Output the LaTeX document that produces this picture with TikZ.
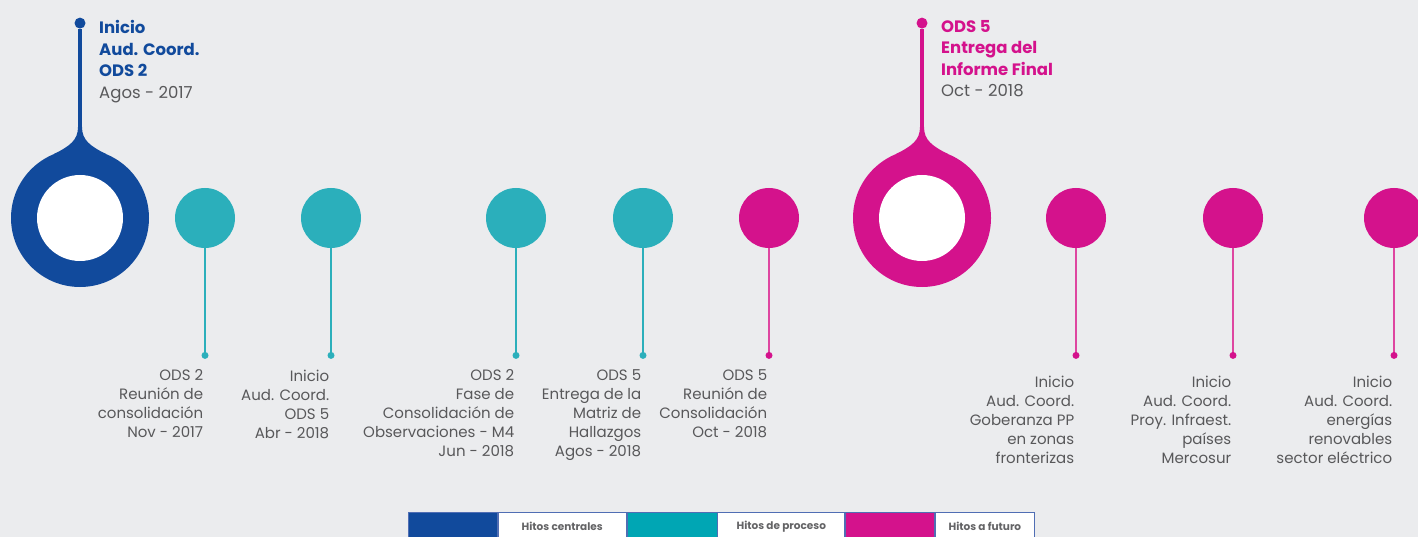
\documentclass[tikz,border=0pt]{standalone}
\usepackage{fontspec}
\setmainfont{Poppins}
\usetikzlibrary{positioning}
\definecolor{azul}{RGB}{17,74,156}
\definecolor{turquesa}{RGB}{43,175,187}
\definecolor{turquesaley}{RGB}{0,166,180}
\definecolor{fucsia}{RGB}{212,18,140}
\definecolor{fucsiaclaro}{RGB}{222,70,160}
\definecolor{gristexto}{RGB}{88,88,90}
\definecolor{grisley}{RGB}{100,100,102}
\definecolor{fondo}{RGB}{235,236,238}
\definecolor{borde}{RGB}{80,110,180}
\tikzset{
    hito/.style={
           circle,
           inner sep=0pt,
           minimum size=60pt,
           },
    hitoC/.style={
           circle,
           inner sep=0pt,
           minimum size=138pt,
           },
    hueco/.style={
           circle,
           fill=white,
           inner sep=0pt,
           minimum size=86pt,
           },
    punto/.style={
           circle,
           inner sep=0pt,
           minimum size=7pt,
           },
    puntoC/.style={
           circle,
           inner sep=0pt,
           minimum size=11pt,
           },
    etiq/.style={
           inner sep=0pt,
           align=right,
           text=gristexto,
           font=\fontsize{15}{19}\selectfont,
           },
    etiqC/.style={
           inner sep=0pt,
           align=left,
           font=\fontsize{16.5}{21.5}\selectfont\bfseries,
           },
    ley/.style={
           rectangle,
           draw=borde, line width=0.8pt,
           minimum height=28pt,
           inner sep=0pt,
           text=grisley,
           font=\fontsize{10.5}{11}\selectfont\bfseries,
           },
}

\begin{document}
\begin{tikzpicture}[x=1pt,y=-1pt]
	\fill[fondo] (0,0) rectangle (1418,537);
	\useasboundingbox (0,0) rectangle (1418,537);

	%hito central azul
	\node[hitoC, fill=azul] (c0) at (80,218) {};
	\fill[azul, shift={(c0.center)}] (-2,-91) .. controls (-2,-78) and (-10,-72) .. (-26,-64)
		-- (26,-64) .. controls (10,-72) and (2,-78) .. (2,-91) -- cycle;
	\node[hueco] (h0) at (c0) {};
	\node[puntoC, fill=azul, above=120pt of c0] (d0) {};
	\node[etiqC, text=azul, below right=-7pt and 15pt of d0] (t0) {Inicio\\Aud. Coord.\\ODS 2\\
										\textcolor{gristexto}{\mdseries Agos - 2017}};

	%hito central fucsia
	\node[hitoC, fill=fucsia] (c1) at (922,218) {};
	\fill[fucsia, shift={(c1.center)}] (-2,-91) .. controls (-2,-78) and (-10,-72) .. (-26,-64)
		-- (26,-64) .. controls (10,-72) and (2,-78) .. (2,-91) -- cycle;
	\node[hueco] (h1) at (c1) {};
	\node[puntoC, fill=fucsia, above=120pt of c1] (d1) {};
	\node[etiqC, text=fucsia, below right=-7pt and 15pt of d1] (t1) {ODS 5\\Entrega del\\Informe Final\\
										\textcolor{gristexto}{\mdseries Oct - 2018}};

	%hitos de proceso
	\node[hito, fill=turquesa] (p1) at (205,218) {};
	\node[hito, fill=turquesa] (p2) at (331,218) {};
	\node[hito, fill=turquesa] (p3) at (516,218) {};
	\node[hito, fill=turquesa] (p4) at (643,218) {};
	\node[punto, fill=turquesa, below=103.5pt of p1] (q1) {};
	\node[punto, fill=turquesa, below=103.5pt of p2] (q2) {};
	\node[punto, fill=turquesa, below=103.5pt of p3] (q3) {};
	\node[punto, fill=turquesa, below=103.5pt of p4] (q4) {};

	%hitos a futuro
	\node[hito, fill=fucsia] (m1) at (769,218) {};
	\node[hito, fill=fucsia] (m2) at (1076,218) {};
	\node[hito, fill=fucsia] (m3) at (1233,218) {};
	\node[hito, fill=fucsia] (m4) at (1394,218) {};
	\node[punto, fill=fucsia, below=103.5pt of m1] (n1) {};
	\node[punto, fill=fucsia, below=103.5pt of m2] (n2) {};
	\node[punto, fill=fucsia, below=103.5pt of m3] (n3) {};
	\node[punto, fill=fucsia, below=103.5pt of m4] (n4) {};

	%etiquetas
	\node[etiq, below left=11.5pt and -1pt of q1] (e1) {ODS 2\\Reunión de\\consolidación\\Nov - 2017};
	\node[etiq, below left=11.5pt and -1pt of q2] (e2) {Inicio\\Aud. Coord.\\ODS 5\\Abr - 2018};
	\node[etiq, below left=11.5pt and -1pt of q3] (e3) {ODS 2\\Fase de\\Consolidación de\\Observaciones - M4\\Jun - 2018};
	\node[etiq, below left=11.5pt and -1pt of q4] (e4) {ODS 5\\Entrega de la\\Matriz de\\Hallazgos\\Agos - 2018};
	\node[etiq, below left=11.5pt and -1pt of n1] (e5) {ODS 5\\Reunión de\\Consolidación\\Oct - 2018};
	\node[etiq, below left=17.5pt and -1pt of n2] (e6) {Inicio\\Aud. Coord.\\Goberanza PP\\en zonas\\fronterizas};
	\node[etiq, below left=17.5pt and -1pt of n3] (e7) {Inicio\\Aud. Coord.\\Proy. Infraest.\\países\\Mercosur};
	\node[etiq, below left=17.5pt and -1pt of n4] (e8) {Inicio\\Aud. Coord.\\energías\\renovables\\sector eléctrico};

	%leyenda
	\node[ley, fill=azul, minimum width=89pt, anchor=north west] (l1) at (408,512) {};
	\node[ley, fill=white, minimum width=128pt, right=0pt of l1] (l2) {Hitos centrales};
	\node[ley, fill=turquesaley, minimum width=90pt, right=0pt of l2] (l3) {};
	\node[ley, fill=white, minimum width=127pt, right=0pt of l3] (l4) {Hitos de proceso};
	\node[ley, fill=fucsia, minimum width=89pt, right=0pt of l4] (l5) {};
	\node[ley, fill=white, minimum width=99pt, right=0pt of l5] (l6) {Hitos a futuro};

	%LINEAS
	\draw[azul, line width=3.5pt] (d0) -- (c0);
	\draw[fucsia, line width=3.5pt] (d1) -- (c1);
	\path[turquesa, line width=2pt]	(p1) edge (q1)
					(p2) edge (q2)
					(p3) edge (q3)
					(p4) edge (q4);
	\path[fucsiaclaro, line width=2pt]	(m1) edge (n1)
					(m2) edge (n2)
					(m3) edge (n3)
					(m4) edge (n4);
\end{tikzpicture}
\end{document}
